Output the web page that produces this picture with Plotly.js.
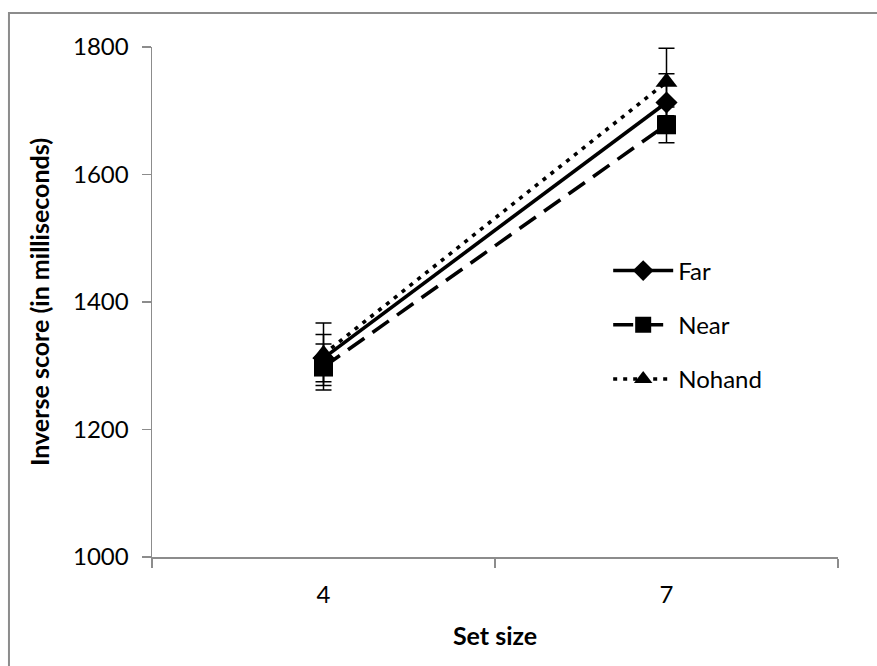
<!DOCTYPE html>
<html>
<head>
<meta charset="utf-8">
<script src="https://cdn.plot.ly/plotly-3.0.1.min.js"></script>
<style>
html,body{margin:0;padding:0;background:#fff;}
#chart{width:877px;height:666px;}
</style>
</head>
<body>
<div id="chart"></div>
<script>
const categories = ["4", "7"];
const farValues = [1312, 1713];
const farErrors = [37, 45];
const nearValues = [1298, 1678];
const nearErrors = [36, 28];
const nohandValues = [1318, 1745];
const nohandErrors = [49, 53];
const seriesNames = ["Far", "Near", "Nohand"];
const yTickValues = [1000, 1200, 1400, 1600, 1800];

const FONT = "Lato, 'Noto Sans', sans-serif";

function series(name, vals, errs, symbol, size, dash, group) {
  return {
    type: "scatter",
    mode: "lines+markers",
    name: name,
    legendgroup: group,
    x: categories,
    y: vals,
    line: {color: "#000", width: 3.6, dash: dash},
    marker: {symbol: symbol, size: size, color: "#000"},
    error_y: {type: "data", array: errs, visible: true, color: "#000", thickness: 1.5, width: 8}
  };
}

const data = [
  series(seriesNames[0], farValues, farErrors, "diamond", 17, "solid", "a"),
  series(seriesNames[1], nearValues, nearErrors, "square", 19, "20px,10px", "b"),
  series(seriesNames[2], nohandValues, nohandErrors, "triangle-up", 19, "4px,6px", "c")
];

const layout = {
  width: 877, height: 666,
  margin: {l: 152, r: 39, t: 47, b: 109},
  paper_bgcolor: "#fff", plot_bgcolor: "#fff",
  font: {family: FONT, size: 24, color: "#000"},
  showlegend: true,
  legend: {
    x: 0.665, y: 0.605, xanchor: "left", yanchor: "top",
    bgcolor: "rgba(0,0,0,0)", borderwidth: 0,
    font: {family: FONT, size: 24, color: "#000"},
    tracegroupgap: 20, itemwidth: 60
  },
  xaxis: {
    type: "category",
    range: [-0.5, 1.5],
    showline: true, linecolor: "#8c8c8c", linewidth: 1.5,
    ticks: "outside", ticklen: 9, tickcolor: "#8c8c8c", tickwidth: 1.5,
    tickson: "boundaries",
    ticklabelstandoff: 16,
    showgrid: false, zeroline: false,
    tickfont: {family: FONT, size: 24, color: "#000"},
    title: {text: "<b>Set size</b>", font: {family: FONT, size: 25, color: "#000"}, standoff: 20}
  },
  yaxis: {
    range: [1000, 1800],
    tickvals: yTickValues,
    showline: true, linecolor: "#8c8c8c", linewidth: 1.5,
    ticks: "outside", ticklen: 9, tickcolor: "#8c8c8c", tickwidth: 1.5,
    ticklabelstandoff: 8,
    showgrid: false, zeroline: false,
    tickfont: {family: FONT, size: 24, color: "#000"},
    title: {text: "<b>Inverse score (in milliseconds)</b>", font: {family: FONT, size: 25, color: "#000"}, standoff: 16}
  },
  shapes: [{
    type: "rect", xref: "paper", yref: "paper",
    x0: -0.2085, x1: 1.2, y0: -0.3, y1: 1.0667,
    line: {color: "#8c8c8c", width: 2}, layer: "below"
  }]
};

Plotly.newPlot("chart", data, layout, {staticPlot: true, displayModeBar: false});
</script>
</body>
</html>
